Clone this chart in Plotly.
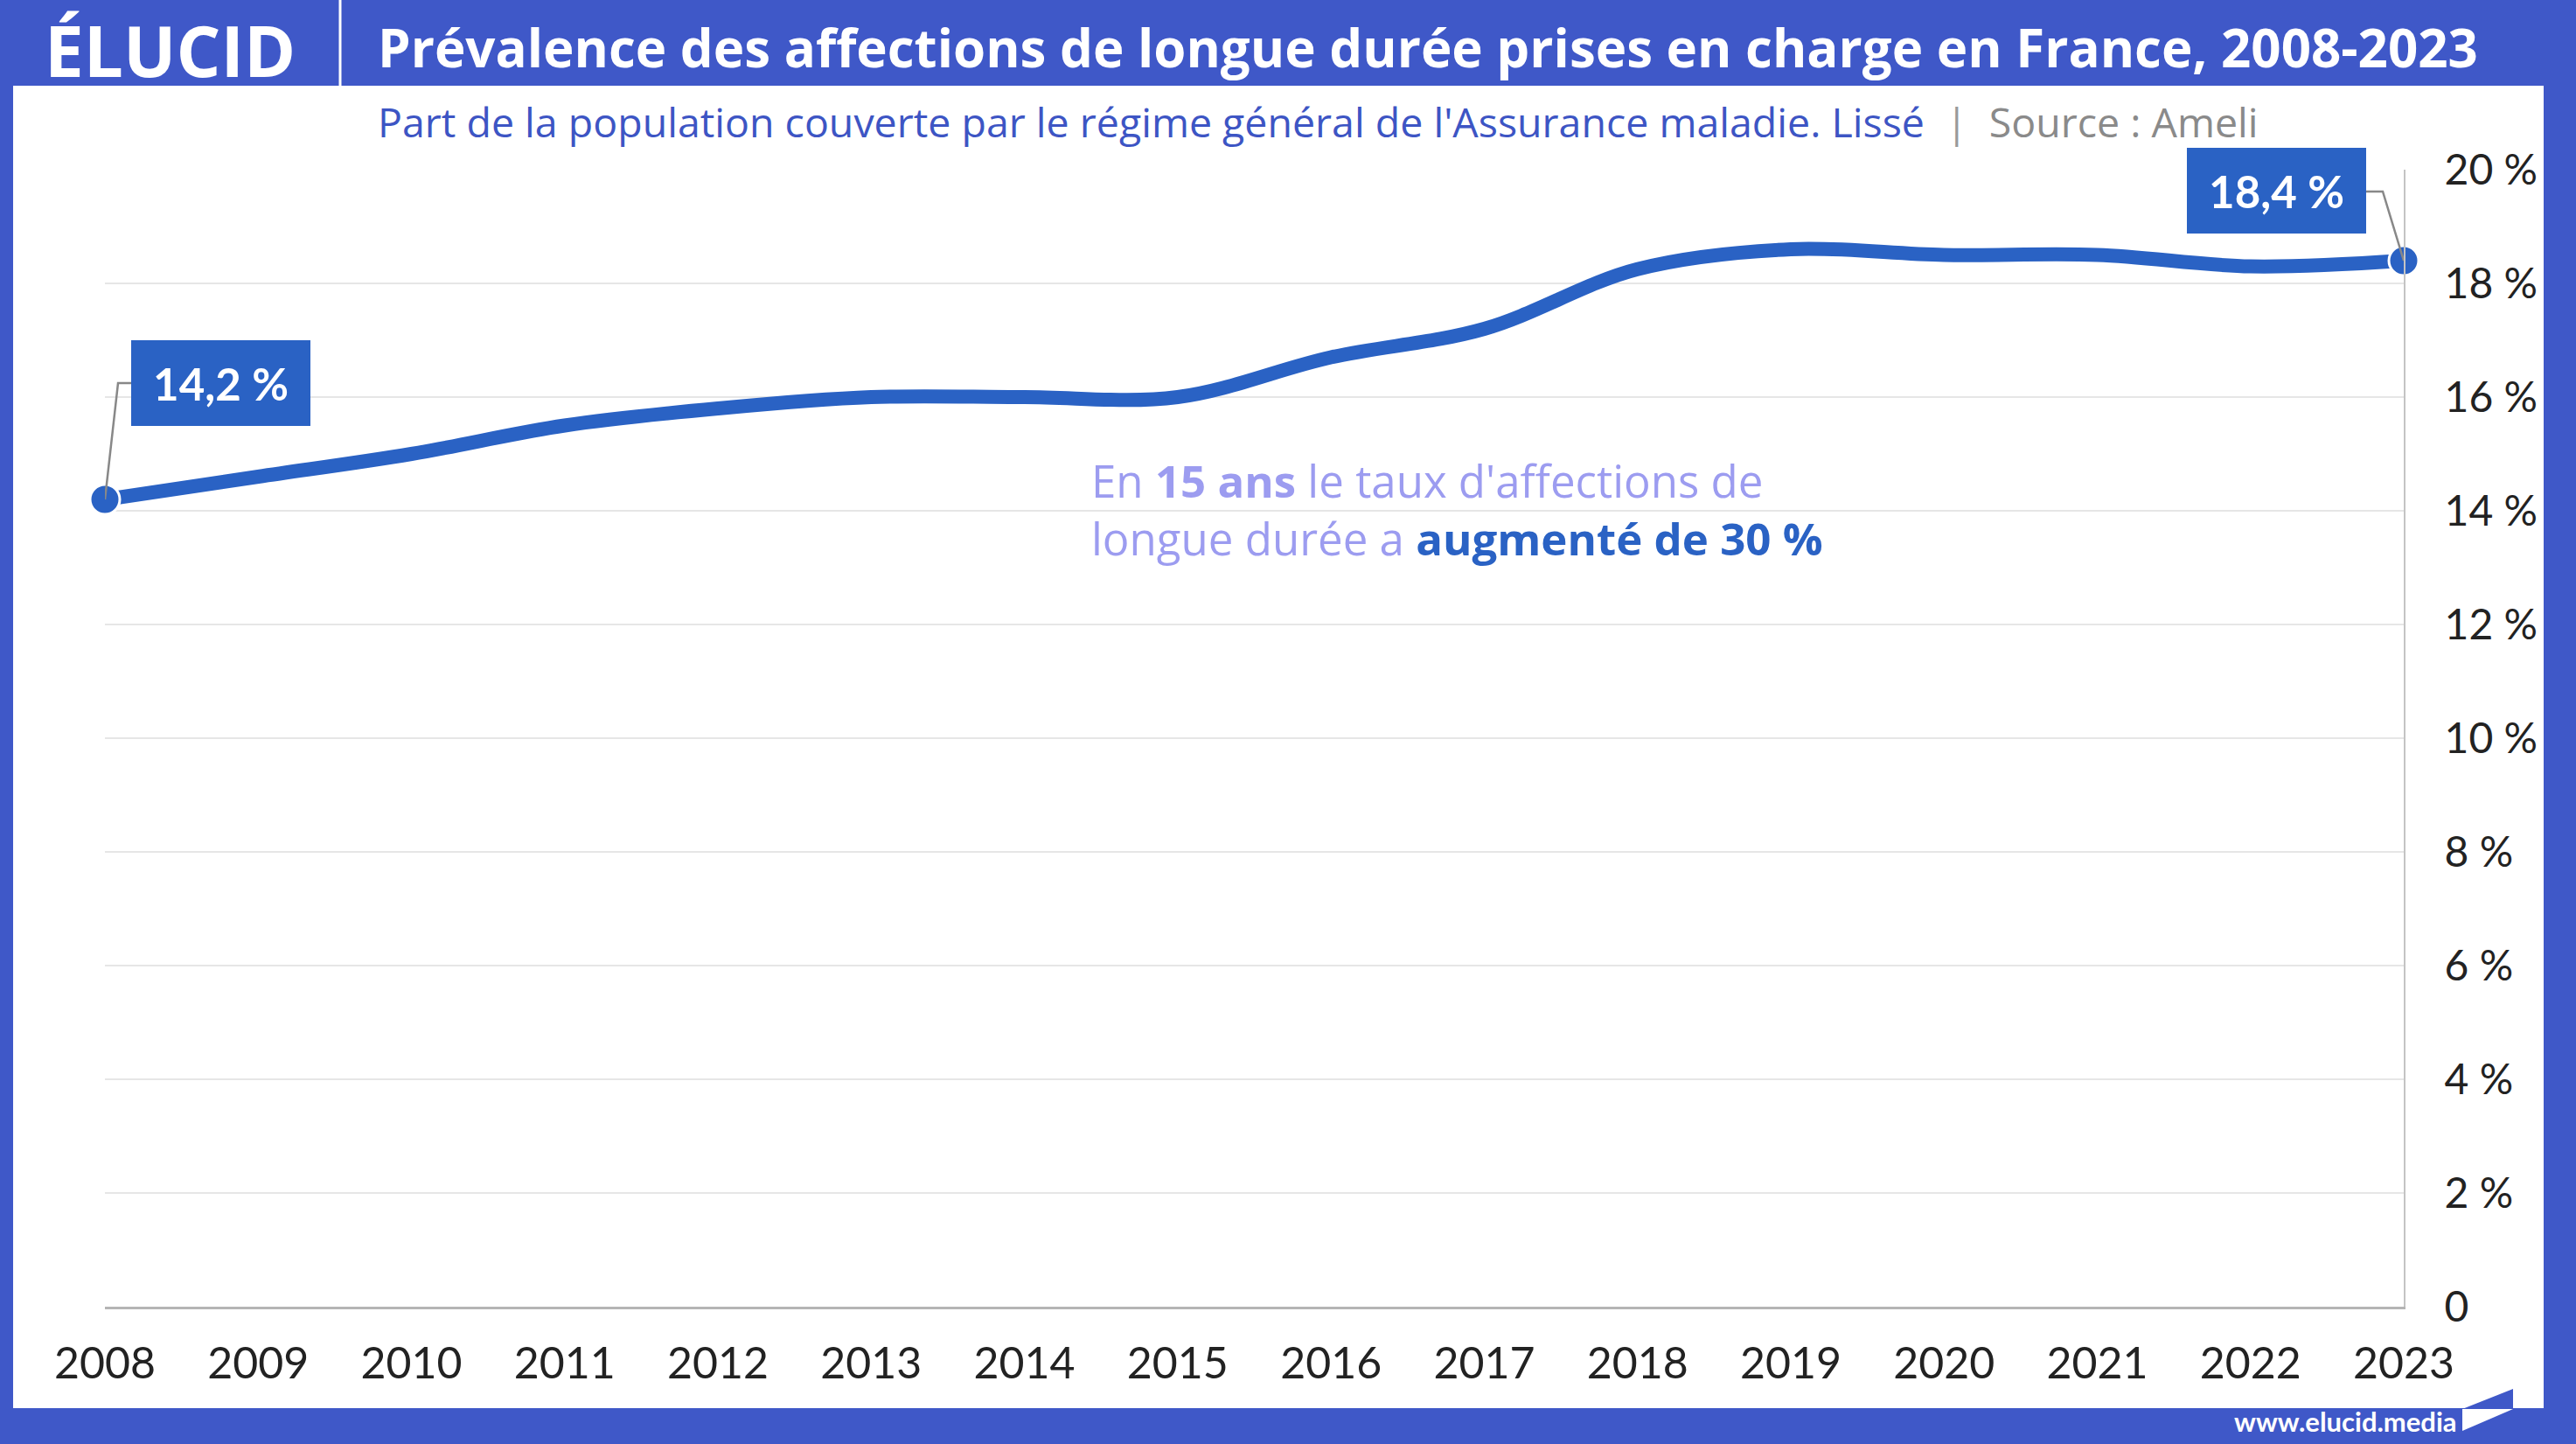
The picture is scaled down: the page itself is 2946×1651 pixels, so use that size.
import plotly.graph_objects as go

years = list(range(2008, 2024))
prevalence = [14.2, 14.6, 15.0, 15.5, 15.8, 16.0, 16.0, 16.0, 16.7, 17.2,
              18.25, 18.6, 18.5, 18.5, 18.3, 18.4]

y_ticks = [0, 2, 4, 6, 8, 10, 12, 14, 16, 18, 20]
y_labels = ["0"] + [f"{v} %" for v in y_ticks[1:]]

TITLE = "Prévalence des affections de longue durée prises en charge en France, 2008-2023"
SUBTITLE = "Part de la population couverte par le régime général de l'Assurance maladie. Lissé"
SOURCE = "Source : Ameli"

FRAME = "#3f58c8"
LINE = "#2a62c4"
PURPLE = "#9c9cf0"
FONT = "Lato"
TEXT_FONT = "Open Sans"

W, H = 2946, 1651
L, R, T, B = 120, 197, 194, 157


def px(x):
    return (x - L) / (W - L - R)


def py(y):
    return (H - B - y) / (H - T - B)


def fmt(v):
    return f"{v:.1f}".replace(".", ",") + " %"


fig = go.Figure()

sizes = [34 if i in (0, len(years) - 1) else 0 for i in range(len(years))]
fig.add_trace(go.Scatter(
    x=years, y=prevalence, mode="lines+markers",
    line=dict(color=LINE, width=16, shape="spline", smoothing=1),
    marker=dict(size=sizes, color=LINE, opacity=1, line=dict(color="white", width=3)),
    cliponaxis=False, hoverinfo="skip", showlegend=False))

shapes = [
    # white card inside the blue frame
    dict(type="rect", xref="paper", yref="paper", layer="below",
         x0=px(15), x1=px(2909), y0=py(98), y1=py(1610),
         fillcolor="white", line=dict(width=0)),
    # divider in header
    dict(type="line", xref="paper", yref="paper",
         x0=px(389), x1=px(389), y0=py(0), y1=py(98),
         line=dict(color="white", width=3)),
    # small logo mark bottom right
    dict(type="path", xref="paper", yref="paper",
         path=f"M{px(2816)},{py(1611)} L{px(2874)},{py(1588)} L{px(2874)},{py(1611)} Z",
         fillcolor=FRAME, line=dict(width=0)),
    dict(type="path", xref="paper", yref="paper",
         path=f"M{px(2816)},{py(1611)} L{px(2874)},{py(1611)} L{px(2816)},{py(1636)} Z",
         fillcolor="white", line=dict(width=0)),
    # connectors from end labels to the points
    dict(type="path", xref="x", yref="y", xsizemode="pixel", ysizemode="pixel",
         xanchor=years[0], yanchor=prevalence[0],
         path="M0,0 L15,133 L30,133", line=dict(color="#888888", width=2.5)),
    dict(type="path", xref="x", yref="y", xsizemode="pixel", ysizemode="pixel",
         xanchor=years[-1], yanchor=prevalence[-1],
         path="M0,0 L-24,79 L-43,79", line=dict(color="#888888", width=2.5)),
]

n_years = years[-1] - years[0]
growth = round((prevalence[-1] / prevalence[0] - 1) * 100)

annotations = [
    dict(text="ÉLUCID", xref="paper", yref="paper", x=px(49), y=py(56),
         xanchor="left", yanchor="middle", showarrow=False,
         font=dict(family=TEXT_FONT, size=80, color="white", weight="bold")),
    dict(text=TITLE, xref="paper", yref="paper", x=px(430), y=py(54),
         xanchor="left", yanchor="middle", showarrow=False,
         font=dict(family=TEXT_FONT, size=60, color="white", weight="bold")),
    dict(text=f"{SUBTITLE}  <span style='color:#9a9a9a'>|  </span>"
              f"<span style='color:#8a8a8a'>{SOURCE}</span>",
         xref="paper", yref="paper", x=px(430), y=py(139),
         xanchor="left", yanchor="middle", showarrow=False,
         font=dict(family=TEXT_FONT, size=46.5, color="#3d55c4")),
    dict(text=f"En <b>{n_years} ans</b> le taux d'affections de<br>longue durée a "
              f"<b><span style='color:{LINE}'>augmenté de {growth} %</span></b>",
         xref="paper", yref="paper", x=px(1246), y=py(582),
         xanchor="left", yanchor="middle", align="left", showarrow=False,
         font=dict(family=TEXT_FONT, size=51, color=PURPLE)),
    dict(text=fmt(prevalence[0]), xref="x", yref="y", x=years[0], y=prevalence[0],
         xshift=132, yshift=133, showarrow=False, bgcolor=LINE,
         width=175, height=68, borderpad=15, borderwidth=0,
         font=dict(family=FONT, size=51, color="white", weight="bold")),
    dict(text=fmt(prevalence[-1]), xref="x", yref="y", x=years[-1], y=prevalence[-1],
         xshift=-146, yshift=80, showarrow=False, bgcolor=LINE,
         width=175, height=68, borderpad=15, borderwidth=0,
         font=dict(family=FONT, size=51, color="white", weight="bold")),
    dict(text="www.elucid.media", xref="paper", yref="paper", x=px(2812), y=py(1625),
         xanchor="right", yanchor="middle", showarrow=False,
         font=dict(family=FONT, size=31, color="white", weight="bold")),
]

fig.update_layout(
    width=W, height=H,
    margin=dict(l=L, r=R, t=T, b=B),
    paper_bgcolor=FRAME, plot_bgcolor="rgba(0,0,0,0)",
    shapes=shapes, annotations=annotations,
    font=dict(family=FONT, color="#222222"),
    xaxis=dict(range=[years[0], years[-1]], tickvals=years,
               ticktext=[str(y) for y in years], showgrid=False,
               showline=True, linecolor="#b5b5b5", linewidth=3,
               ticks="", ticklabelstandoff=19, zeroline=False,
               tickfont=dict(family=FONT, size=50, color="#222222")),
    yaxis=dict(range=[0, 20], side="right", tickvals=y_ticks, ticktext=y_labels,
               showgrid=True, gridcolor="#e6e6e6", gridwidth=2,
               showline=True, linecolor="#c4c4c4", linewidth=2,
               ticks="", ticklabelstandoff=35, zeroline=False,
               tickfont=dict(family=FONT, size=48, color="#222222")),
)

fig.write_html("out.html", config=dict(displayModeBar=False),
               post_script="document.body.style.margin='0';")
